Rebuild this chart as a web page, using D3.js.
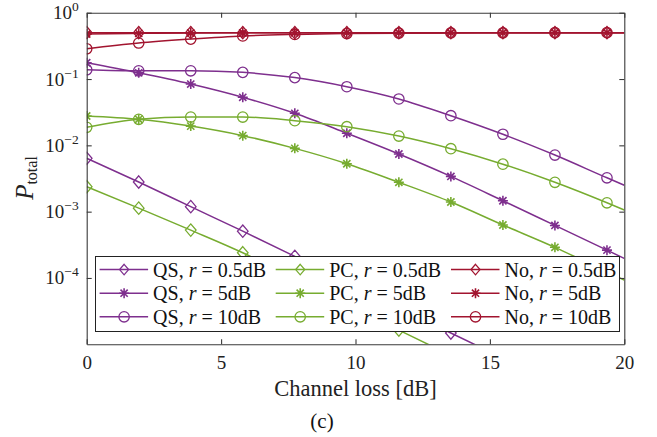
<!DOCTYPE html>
<html>
<head>
<meta charset="utf-8">
<script src="https://cdn.jsdelivr.net/npm/d3@7"></script>
<style>
  html, body { margin: 0; padding: 0; background: #fff; }
  svg { display: block; }
  svg text { font-family: "Liberation Serif", "DejaVu Serif", serif; }
</style>
</head>
<body>
<svg id="chart" width="657" height="437"></svg>
<script>
// ---------------- data ----------------
const channelLoss = [0, 1.935, 3.871, 5.806, 7.742, 9.677, 11.613, 13.548, 15.484, 17.419, 19.355, 20];
const markerCount = 11; // markers drawn on the first 11 points

const qsR05 = [0.00637, 0.0028, 0.00119, 0.000508, 0.000212, 0.0000871, 0.0000363, 0.0000148, 0.0000062, null, null, null];
const qsR5  = [0.176, 0.124, 0.084, 0.053, 0.0304, 0.0152, 0.0074, 0.0034, 0.00146, 0.00062, 0.000263, 0.000197];
const qsR10 = [0.138, 0.133, 0.133, 0.126, 0.105, 0.0765, 0.050, 0.028, 0.0147, 0.00714, 0.00324, 0.0025];

const pcR05 = [0.00238, 0.00113, 0.000527, 0.00024, 0.0000977, 0.0000398, 0.0000164, 0.0000068, null, null, null, null];
const pcR5  = [0.0277, 0.0247, 0.0195, 0.014, 0.0090, 0.00528, 0.00277, 0.0014, 0.00063, 0.00029, 0.000123, 0.000093];
const pcR10 = [0.0187, 0.0247, 0.0267, 0.0267, 0.0235, 0.0191, 0.0138, 0.0089, 0.0052, 0.00277, 0.00136, 0.00106];

const noR05 = [0.5, 0.5, 0.5, 0.5, 0.5, 0.5, 0.5, 0.5, 0.5, 0.5, 0.5, 0.5];
const noR5  = [0.477, 0.488, 0.494, 0.497, 0.499, 0.5, 0.5, 0.5, 0.5, 0.5, 0.5, 0.5];
const noR10 = [0.286, 0.349, 0.40, 0.446, 0.47, 0.485, 0.492, 0.496, 0.498, 0.5, 0.5, 0.5];

const xTicks = [0, 5, 10, 15, 20];
const yTicks = [1e-4, 1e-3, 1e-2, 1e-1, 1];
const yTickExp = ["−4", "−3", "−2", "−1", "0"];

const schemes = ["QS", "PC", "No"];
const ratios = ["0.5dB", "5dB", "10dB"];
const colors = { QS: "#7E2F8E", PC: "#77AC30", No: "#A2142F" };
const markerTypes = { "0.5dB": "diamond", "5dB": "star", "10dB": "circle" };

const seriesList = [
  { scheme: "QS", r: "0.5dB", values: qsR05 },
  { scheme: "QS", r: "5dB", values: qsR5 },
  { scheme: "QS", r: "10dB", values: qsR10 },
  { scheme: "PC", r: "0.5dB", values: pcR05 },
  { scheme: "PC", r: "5dB", values: pcR5 },
  { scheme: "PC", r: "10dB", values: pcR10 },
  { scheme: "No", r: "0.5dB", values: noR05 },
  { scheme: "No", r: "5dB", values: noR5 },
  { scheme: "No", r: "10dB", values: noR10 }
];

// ---------------- layout ----------------
const L = 86.7, R = 624.3, T = 12.7, B = 344.3;
const axisColor = "#3a3a3a";
const FONT = "Liberation Serif, DejaVu Serif, serif";
const svg = d3.select("#chart");

const x = d3.scaleLinear().domain([0, 20]).range([L, R]);
const y = d3.scaleLog().domain([1e-5, 1]).range([B, T]);

svg.append("defs").append("clipPath").attr("id", "plotclip")
  .append("rect").attr("x", L).attr("y", T).attr("width", R - L).attr("height", B - T);

// ---------------- markers ----------------
function markerPath(type, s) {
  if (type === "diamond") {
    const w = 5.3 * s, h = 6.2 * s;
    return `M0,${-h}L${w},0L0,${h}L${-w},0Z`;
  }
  if (type === "circle") {
    const r = 5.2 * s;
    return `M${r},0A${r},${r} 0 1,1 ${-r},0A${r},${r} 0 1,1 ${r},0Z`;
  }
  const a = 5 * s, d = a * 0.72;
  return `M${-a},0L${a},0M0,${-a}L0,${a}M${-d},${-d}L${d},${d}M${-d},${d}L${d},${-d}`;
}

// ---------------- plot ----------------
const plot = svg.append("g").attr("clip-path", "url(#plotclip)");
const line = d3.line()
  .defined(d => d.v != null)
  .x(d => x(d.x))
  .y(d => y(d.v))
  .curve(d3.curveMonotoneX);

seriesList.forEach(s => {
  const pts = channelLoss.map((cx, i) => ({ x: cx, v: s.values[i] }));
  const g = plot.append("g");
  g.append("path")
    .attr("d", line(pts))
    .attr("fill", "none")
    .attr("stroke", colors[s.scheme])
    .attr("stroke-width", 1.5);
  g.selectAll("path.mk")
    .data(pts.slice(0, markerCount).filter(d => d.v != null))
    .join("path")
    .attr("class", "mk")
    .attr("transform", d => `translate(${x(d.x)},${y(d.v)})`)
    .attr("d", markerPath(markerTypes[s.r], 1))
    .attr("fill", "none")
    .attr("stroke", colors[s.scheme])
    .attr("stroke-width", markerTypes[s.r] === "star" ? 1.6 : 1.3);
});

// ---------------- axes ----------------
const xAxisB = svg.append("g").attr("transform", `translate(0,${B})`)
  .call(d3.axisBottom(x).tickValues(xTicks).tickSizeInner(-5).tickSizeOuter(0).tickFormat(d3.format("d")));
const xAxisT = svg.append("g").attr("transform", `translate(0,${T})`)
  .call(d3.axisTop(x).tickValues(xTicks).tickSizeInner(-5).tickSizeOuter(0).tickFormat(""));
const yAxisL = svg.append("g").attr("transform", `translate(${L},0)`)
  .call(d3.axisLeft(y).tickValues(yTicks).tickSizeInner(-5).tickSizeOuter(0).tickFormat(""));
const yAxisR = svg.append("g").attr("transform", `translate(${R},0)`)
  .call(d3.axisRight(y).tickValues(yTicks).tickSizeInner(-5).tickSizeOuter(0).tickFormat(""));

[xAxisB, xAxisT, yAxisL, yAxisR].forEach(g => {
  g.attr("font-family", FONT);
  g.select(".domain").attr("stroke", axisColor).attr("stroke-width", 1.1);
  g.selectAll(".tick line").attr("stroke", axisColor).attr("stroke-width", 1.1);
});

xAxisB.selectAll(".tick text")
  .attr("y", 25).attr("dy", 0)
  .attr("fill", "#222")
  .attr("font-family", FONT)
  .attr("font-size", 19);

yAxisL.selectAll(".tick").each(function (d, i) {
  const t = d3.select(this).select("text");
  t.text(null)
    .attr("x", -8).attr("dy", 0).attr("y", 6)
    .attr("text-anchor", "end")
    .attr("fill", "#222")
    .attr("font-family", FONT);
  t.append("tspan").attr("font-size", 19).text("10");
  t.append("tspan").attr("font-size", 13.5).attr("dy", -8).text(yTickExp[i]);
});

// axis titles
svg.append("text")
  .attr("x", (L + R) / 2).attr("y", 396)
  .attr("text-anchor", "middle")
  .attr("fill", "#222")
  .attr("font-family", FONT)
  .attr("font-size", 22.5)
  .text("Channel loss [dB]");

svg.append("text")
  .attr("x", 322).attr("y", 428)
  .attr("text-anchor", "middle")
  .attr("fill", "#111")
  .attr("font-family", FONT)
  .attr("font-size", 21)
  .text("(c)");

const yl = svg.append("text")
  .attr("transform", "translate(33,178) rotate(-90)")
  .attr("text-anchor", "middle")
  .attr("fill", "#222")
  .attr("font-family", FONT);
yl.append("tspan").attr("font-size", 25).attr("font-style", "italic").text("P");
yl.append("tspan").attr("font-size", 16).attr("dy", 4).text("total");

// ---------------- legend ----------------
const lg = svg.append("g");
lg.append("rect")
  .attr("x", 95.5).attr("y", 256.5).attr("width", 524).attr("height", 75)
  .attr("fill", "#fff").attr("stroke", "#222").attr("stroke-width", 1);

const colX = [99.6, 275.7, 451];
const rowY = [269.6, 293.2, 316.8];
schemes.forEach((sc, ci) => {
  ratios.forEach((r, ri) => {
    const gx = colX[ci], gy = rowY[ri];
    const item = lg.append("g").attr("transform", `translate(${gx},${gy})`);
    item.append("line").attr("x1", 0).attr("x2", 48.5).attr("y1", 0).attr("y2", 0)
      .attr("stroke", colors[sc]).attr("stroke-width", 1.5);
    item.append("path").attr("transform", "translate(24.5,0)")
      .attr("d", markerPath(markerTypes[r], markerTypes[r] === "diamond" ? 0.85 : 1))
      .attr("fill", "none").attr("stroke", colors[sc])
      .attr("stroke-width", markerTypes[r] === "star" ? 1.6 : 1.3);
    const t = item.append("text").attr("x", 53.5).attr("y", 7)
      .attr("fill", "#111").attr("font-family", FONT).attr("font-size", 20);
    t.append("tspan").text(sc + ", ");
    t.append("tspan").attr("font-style", "italic").text("r");
    t.append("tspan").text(" = " + r);
  });
});
</script>
</body>
</html>
